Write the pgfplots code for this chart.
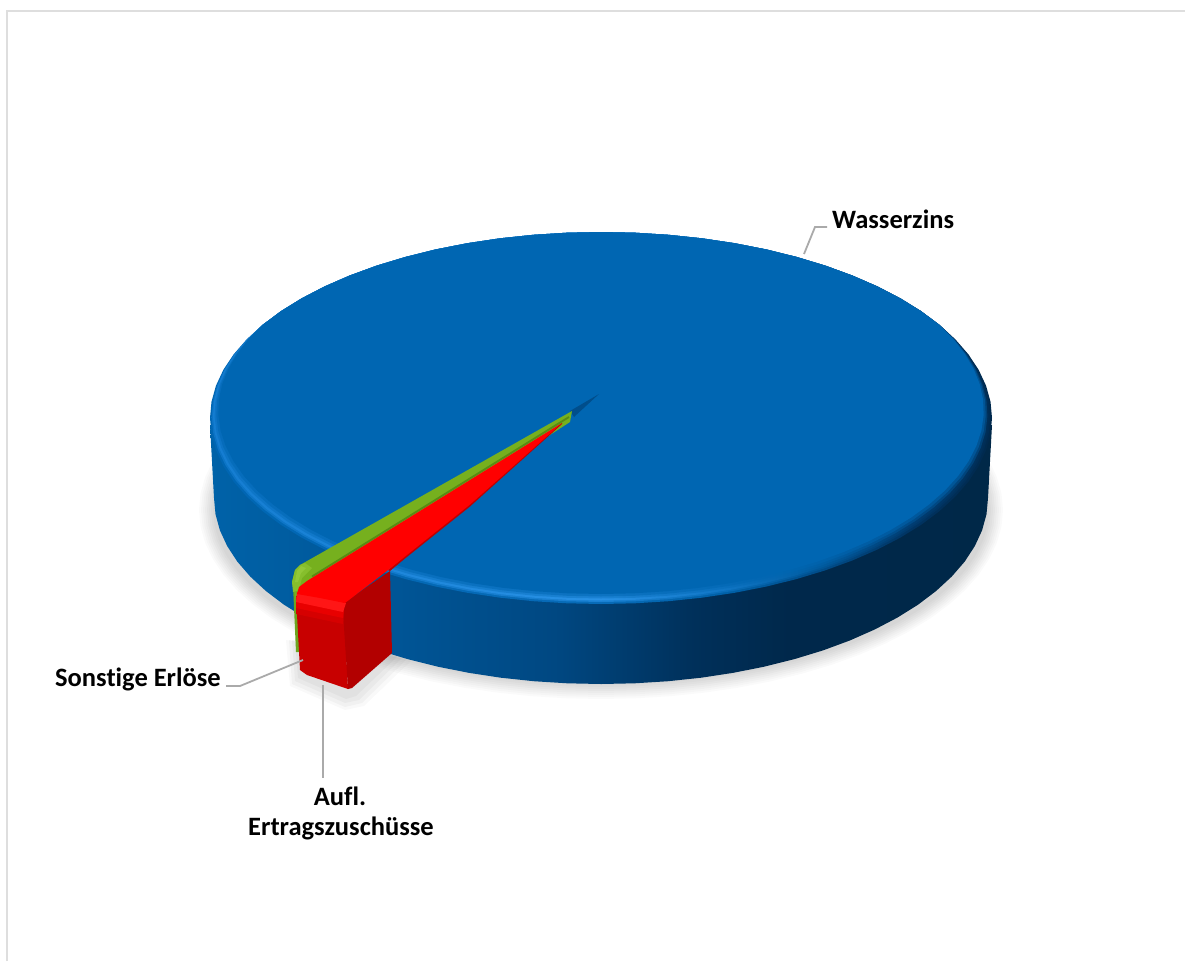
\documentclass[border=0pt]{standalone}
\usepackage{fontspec}
\setmainfont[Ligatures=NoCommon]{Carlito}
\usepackage{pgfplots}
\usepackage{pgfplotstable}
\pgfplotsset{compat=1.18}
\definecolor{topblue}{RGB}{0,102,178}
\definecolor{lead}{RGB}{170,170,170}
\pgfdeclarehorizontalshading{sideblue}{100bp}{
 rgb(0bp)=(0,.384,.659); rgb(25bp)=(0,.384,.659); rgb(37bp)=(0,.333,.588);
 rgb(47bp)=(0,.282,.51); rgb(56bp)=(0,.188,.353); rgb(62bp)=(0,.157,.294);
 rgb(75bp)=(0,.157,.282); rgb(100bp)=(0,.157,.282)}
\pgfdeclarehorizontalshading{rimbase}{100bp}{
 rgb(0bp)=(0,.40,.70); rgb(25bp)=(0,.40,.70); rgb(50bp)=(.03,.42,.72);
 rgb(58bp)=(0,.38,.66); rgb(64bp)=(0,.3,.54); rgb(70bp)=(0,.2,.38); rgb(75bp)=(0,.16,.3); rgb(100bp)=(0,.16,.3)}
\pgfdeclarehorizontalshading{rimouter}{100bp}{
 rgb(0bp)=(.08,.49,.82); rgb(25bp)=(.08,.49,.82); rgb(50bp)=(.16,.57,.90);
 rgb(58bp)=(.06,.46,.77); rgb(64bp)=(0,.36,.63); rgb(70bp)=(0,.24,.45); rgb(75bp)=(0,.18,.34); rgb(100bp)=(0,.18,.34)}
\pgfplotstableread{
c s
1 0
.9962 .0872
.9848 .1736
.9659 .2588
.9397 .3420
.9063 .4226
.8660 .5
.8192 .5736
.7660 .6428
.7071 .7071
.6428 .7660
.5736 .8192
.5 .8660
.4226 .9063
.3420 .9397
.2588 .9659
.1736 .9848
.0872 .9962
0 1
-.0872 .9962
-.1736 .9848
-.2588 .9659
-.3420 .9397
-.4226 .9063
-.5 .8660
-.5736 .8192
-.6428 .7660
-.7071 .7071
-.7660 .6428
-.8192 .5736
-.8660 .5
-.9063 .4226
-.9397 .3420
-.9659 .2588
-.9848 .1736
-.9962 .0872
-1 0
-.9962 -.0872
-.9848 -.1736
-.9659 -.2588
-.9397 -.3420
-.9063 -.4226
-.8660 -.5
-.8192 -.5736
-.7660 -.6428
-.7071 -.7071
-.6428 -.7660
-.5736 -.8192
-.5 -.8660
-.4226 -.9063
-.3420 -.9397
-.2588 -.9659
-.1736 -.9848
-.0872 -.9962
0 -1
.0872 -.9962
.1736 -.9848
.2588 -.9659
.3420 -.9397
.4226 -.9063
.5 -.8660
.5736 -.8192
.6428 -.7660
.7071 -.7071
.7660 -.6428
.8192 -.5736
.8660 -.5
.9063 -.4226
.9397 -.3420
.9659 -.2588
.9848 -.1736
.9962 -.0872
}\unitring
\newcommand{\ringplot}[5]{\addplot[#5] table[x expr={#1+#2*\thisrow{c}},y expr={#3+#4*\thisrow{s}}] {\unitring} -- cycle;}
% top face inset from the rim by a share #1 of the band: no band on the far side of the pie
\newcommand{\faceplot}[2]{\addplot[#2] table[
 x expr={601+(391-#1*15*sqrt(max(0,\thisrow{s}+.45)/1.45))*\thisrow{c}},
 y expr={418+186*\thisrow{s}-#1*10*max(0,\thisrow{s}+.45)/1.45}] {\unitring} -- cycle;}
\begin{document}
\begin{tikzpicture}
\useasboundingbox (0,0) rectangle (1185pt,961pt);
\begin{axis}[at={(0,0)},anchor=south west,scale only axis,width=1185pt,height=961pt,
 xmin=0,xmax=1185,ymin=0,ymax=961,y dir=reverse,hide axis,clip=false]
% frame
\addplot[draw={rgb,255:red,222;green,222;blue,222},line width=2.8pt] coordinates {(7,961)(7,11)(1185,11)};
% soft shadow
\ringplot{601}{402}{510}{189}{draw=none,fill=black,fill opacity=.018}
\ringplot{601}{400}{510}{187}{draw=none,fill=black,fill opacity=.018}
\ringplot{601}{398}{510}{185}{draw=none,fill=black,fill opacity=.02}
\ringplot{601}{396}{510}{183}{draw=none,fill=black,fill opacity=.02}
\ringplot{601}{394}{510}{181}{draw=none,fill=black,fill opacity=.022}
\ringplot{601}{392}{510}{179}{draw=none,fill=black,fill opacity=.022}
\ringplot{601}{390}{510}{177}{draw=none,fill=black,fill opacity=.025}
\ringplot{601}{388}{510}{175}{draw=none,fill=black,fill opacity=.025}
\addplot[draw=none,fill=black,fill opacity=.025] coordinates {(286,640)(290,686)(345,710)(364,706)(412,660)} -- cycle;
\addplot[draw=none,fill=black,fill opacity=.03] coordinates {(289,640)(292,684)(345,707)(362,703)(408,658)} -- cycle;
\addplot[draw=none,fill=black,fill opacity=.03] coordinates {(292,640)(295,681)(345,703)(359,700)(404,656)} -- cycle;
\addplot[draw=none,fill=black,fill opacity=.035] coordinates {(295,640)(298,678)(346,699)(356,696)(400,654)} -- cycle;
% side of the pie
\addplot[draw=none,shade,shading=sideblue] coordinates {
(992,425)(988,498)(986.5,514.2)(982.1,530.3)(974.8,546.1)(964.7,561.6)(951.7,576.6)(936.1,591)(918,604.7)
(897.4,617.6)(874.7,629.5)(849.8,640.5)(823,650.4)(794.5,659.1)(764.5,666.6)(733.4,672.8)(701.2,677.7)
(668.2,681.2)(634.7,683.3)(601,684)(567.3,683.3)(533.8,681.2)(500.8,677.7)(468.6,672.8)(437.5,666.6)
(407.5,659.1)(379,650.4)(352.2,640.5)(327.3,629.5)(304.6,617.6)(284,604.7)(265.9,591)(250.3,576.6)
(237.3,561.6)(227.2,546.1)(219.9,530.3)(215.5,514.2)(214,498)(210,425)} -- cycle;
% top of the pie
\ringplot{601}{391}{418}{186}{draw=none,shade,shading=rimbase}
\faceplot{.2}{draw=none,shade,shading=rimouter,opacity=.6}
\faceplot{.35}{draw=none,shade,shading=rimouter}
\faceplot{.55}{draw=none,fill=topblue,fill opacity=.35}
\faceplot{.75}{draw=none,fill=topblue,fill opacity=.5}
\faceplot{1}{draw=none,fill=topblue}
% spike of the blue slice at the centre
\addplot[draw=none,fill={rgb,255:red,0;green,78;blue,140}] coordinates {(599,394)(570,411)(574,417)} -- cycle;
% green slice
\addplot[draw=none,fill={rgb,255:red,110;green,165;blue,30}] coordinates {(293,585)(296,652)(300,652)(299,590)} -- cycle;
\addplot[draw=none,fill={rgb,255:red,118;green,176;blue,30}] coordinates {(572,411)(300,565)(295,570)(292,582)(296,600)(310,590)(570,422)} -- cycle;
\addplot[draw=none,fill={rgb,255:red,134;green,190;blue,44}] coordinates {(305,563)(300,565)(295,570)(292,582)(293,592)(299,590)(302,578)(312,568)} -- cycle;
\addplot[draw=none,fill={rgb,255:red,146;green,200;blue,56}] coordinates {(301,566)(297,571)(295,582)(298,582)(301,573)(306,568)} -- cycle;
\addplot[draw={rgb,255:red,88;green,140;blue,20},line width=1.8pt] coordinates {(569,417)(312,576.5)};
% red slice: front and side faces
\addplot[draw=none,fill={rgb,255:red,200;green,0;blue,0}] coordinates {(296,596)(300,670)(307,675)(348,689)(344,612)(345,602)} -- cycle;
\addplot[draw=none,fill={rgb,255:red,178;green,0;blue,0}] coordinates {(345,602)(390,571)(392,653)(352,688)(348,689)(343,612)} -- cycle;
\addplot[draw=none,fill={rgb,255:red,214;green,0;blue,0}] coordinates {(296,600)(296,614)(343,624)(344,610)} -- cycle;
\addplot[draw=none,fill={rgb,255:red,232;green,0;blue,0}] coordinates {(296,597)(296,608)(343,618)(344,607)} -- cycle;
\addplot[draw=none,fill={rgb,255:red,255;green,22;blue,22}] coordinates {(297,592)(296,602)(343,612)(346,603)} -- cycle;
% red slice: top
\addplot[draw=none,fill={rgb,255:red,190;green,0;blue,0}] coordinates {(562,424)(470,506.5)(405,558.5)(390,571)(388,570)(562,423)} -- cycle;
\addplot[draw=none,fill={rgb,255:red,255;green,0;blue,0}] coordinates {(562,423)(307,581)(299,587)(297,594)(320,598)(345,603)(392,567)(405,556.5)(470,504.5)} -- cycle;
% leader lines
\addplot[draw=lead,line width=1.8pt] coordinates {(804,254)(815,227)(827,227)};
\addplot[draw=lead,line width=1.8pt] coordinates {(226,686)(240,686)(303,660)};
\addplot[draw=lead,line width=1.8pt] coordinates {(323,685)(323,778)};
% labels
\node[anchor=west,inner sep=0pt,font=\fontsize{26.5}{32}\selectfont\bfseries] at (axis cs:832,219) {Wasserzins};
\node[anchor=west,inner sep=0pt,font=\fontsize{26.5}{32}\selectfont\bfseries] at (axis cs:55,679) {Sonstige Erlöse};
\node[anchor=center,inner sep=0pt,font=\fontsize{26.5}{32}\selectfont\bfseries] at (axis cs:340,796) {Aufl.};
\node[anchor=center,inner sep=0pt,font=\fontsize{26.5}{32}\selectfont\bfseries] at (axis cs:341,828) {Ertragszuschüsse};
\end{axis}
\end{tikzpicture}
\end{document}
